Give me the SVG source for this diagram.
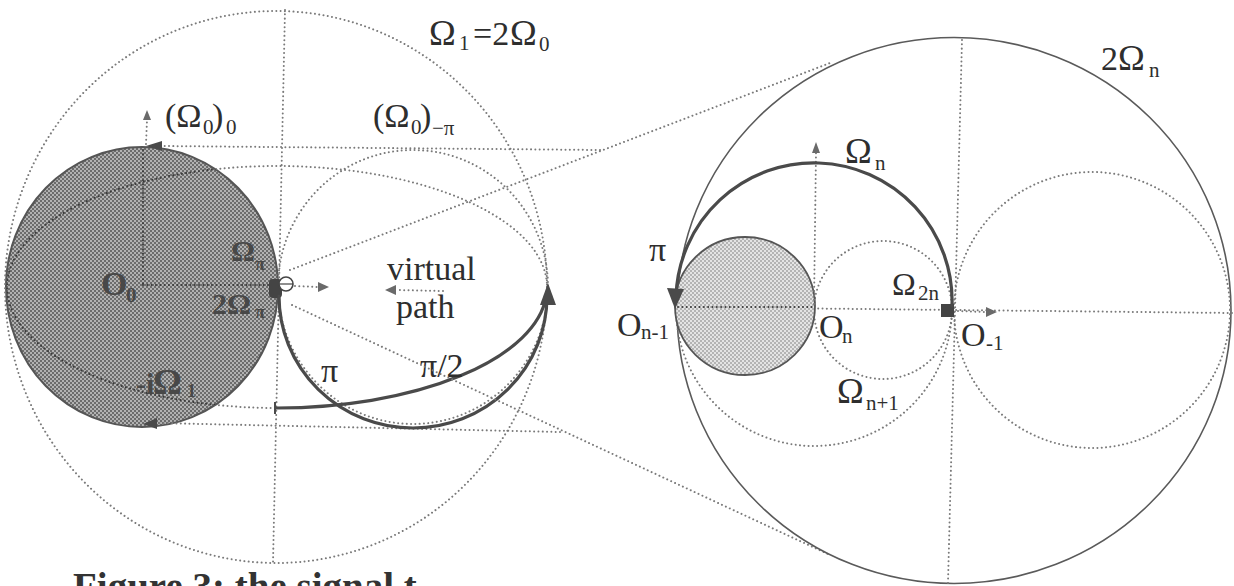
<svg xmlns="http://www.w3.org/2000/svg" width="1234" height="586" viewBox="0 0 1234 586">
<style>
  .dot{fill:none;stroke:#7a7a7a;stroke-width:2;stroke-dasharray:0.01 4.3;stroke-linecap:round}
  .dotdk{fill:none;stroke:#3a3a3a;stroke-width:2;stroke-dasharray:0.01 4.3;stroke-linecap:round}
  .thick{fill:none;stroke:#4a4a4a;stroke-width:3.2;stroke-linecap:round}
  .thin{fill:none;stroke:#5a5a5a;stroke-width:1.6}
  .head{fill:#4a4a4a}
  .shead{fill:#6a6a6a}
  text{font-family:"Liberation Serif","Times New Roman",serif;fill:#2e2e2e}
  .lb{font-size:34px}
  .om{font-size:36px}
  .sb{font-size:21px}
  .dk{fill:#484848;font-weight:bold}
</style>
<defs>
  <pattern id="hL" width="4" height="4" patternUnits="userSpaceOnUse">
    <rect width="4" height="4" fill="#b2b2b2"/>
    <rect width="2" height="2" fill="#6c6c6c"/>
    <rect x="2" y="2" width="2" height="2" fill="#6c6c6c"/>
  </pattern>
  <pattern id="hR" width="4" height="4" patternUnits="userSpaceOnUse">
    <rect width="4" height="4" fill="#e4e4e4"/>
    <rect width="2" height="2" fill="#b4b4b4"/>
    <rect x="2" y="2" width="2" height="2" fill="#b4b4b4"/>
  </pattern>
  <clipPath id="clipL"><ellipse cx="142" cy="287" rx="136" ry="140"/></clipPath>
</defs>

<!-- LEFT PANEL -->
<g id="left-shaded-circle">
  <ellipse cx="142" cy="287" rx="136" ry="140" fill="url(#hL)" stroke="#555" stroke-width="2"/>
</g>
<g id="left-construction">
  <ellipse class="dot" cx="276" cy="287" rx="271" ry="276"/>
  <ellipse class="dot" cx="413" cy="287" rx="135" ry="137"/>
  <line class="dot" x1="285" y1="10" x2="273" y2="563"/>
  <path class="dot" d="M547 287 A270 121 0 1 0 277 408"/>
  <g clip-path="url(#clipL)">
    <path class="dotdk" d="M547 287 A270 121 0 1 0 277 408"/>
    <line class="dotdk" x1="143" y1="150" x2="143" y2="286"/>
    <line class="dotdk" x1="143" y1="285" x2="277" y2="285"/>
  </g>
  <line class="dot" x1="600" y1="150" x2="160" y2="146"/>
  <polygon class="head" points="146,146 162,141 162,151"/>
  <line class="dot" x1="560" y1="432" x2="158" y2="423"/>
  <polygon class="head" points="143,424 157,418 157,429"/>
  <line class="dot" x1="146" y1="144" x2="147" y2="120"/>
  <polygon class="shead" points="147,110 143,120 151,120"/>
</g>
<g id="left-points">
  <rect x="269" y="279" width="13" height="19" rx="4" fill="#444"/>
  <circle cx="286" cy="284" r="7" fill="#fff" stroke="#444" stroke-width="1.6"/>
  <line x1="279" y1="284" x2="293" y2="284" stroke="#444" stroke-width="1.2"/>
  <line class="dot" x1="295" y1="286" x2="318" y2="287"/>
  <polygon class="shead" points="329,287 318,282 318,292"/>
  <line class="dot" x1="443" y1="291" x2="396" y2="290"/>
  <polygon class="shead" points="385,290 396,285 396,295"/>
</g>
<g id="left-paths">
  <path class="thick" d="M279 296 A134 132 0 0 0 547 296"/>
  <path class="thick" d="M276 408 A270 121 0 0 0 546.3 296"/>
  <line x1="275" y1="402" x2="275" y2="414" stroke="#4a4a4a" stroke-width="2"/>
  <polygon class="head" points="548,283 540,305 556,305"/>
</g>
<g id="left-labels">
  <text class="om" x="429" y="45">Ω</text>
  <text class="sb" x="459" y="50">1</text>
  <text class="lb" x="473" y="45">=2</text>
  <text class="om" x="510" y="45">Ω</text>
  <text class="sb" x="539" y="51">0</text>

  <text class="lb" x="165" y="127">(Ω</text>
  <text class="sb" x="203" y="134">0</text>
  <text class="lb" x="212" y="127">)</text>
  <text class="sb" x="226" y="134">0</text>

  <text class="lb" x="373" y="127">(Ω</text>
  <text class="sb" x="411" y="134">0</text>
  <text class="lb" x="420" y="127">)</text>
  <text class="sb" x="432" y="135">−π</text>

  <text class="lb dk" x="101" y="295">O</text>
  <text class="sb dk" x="126" y="302">0</text>
  <text class="dk" style="font-size:30px" x="231" y="261">Ω</text>
  <text class="dk" style="font-size:18px" x="255" y="270">π</text>
  <text class="dk" style="font-size:30px" x="212" y="314">2Ω</text>
  <text class="dk" style="font-size:18px" x="255" y="318">π</text>
  <text class="dk" style="font-size:30px" x="136" y="394">-i</text>
  <text class="dk" style="font-size:36px" x="153" y="394">Ω</text>
  <text class="dk" style="font-size:18px" x="187" y="397">1</text>

  <text class="lb" x="387" y="280">virtual</text>
  <text class="lb" x="396" y="318">path</text>
  <text class="lb" x="321" y="382">π</text>
  <text class="lb" x="420" y="377">π/2</text>
</g>

<!-- ZOOM CONNECTORS -->
<g id="connectors">
  <line class="dot" x1="290" y1="270" x2="830" y2="63"/>
  <line class="dot" x1="292" y1="305" x2="830" y2="555"/>
</g>

<!-- RIGHT PANEL -->
<g id="right-outer-circle">
  <ellipse class="thin" cx="954" cy="310.5" rx="277" ry="273"/>
</g>
<g id="right-construction">
  <line class="dot" x1="962" y1="40" x2="948" y2="583"/>
  <line class="dot" x1="676" y1="307" x2="1232" y2="313"/>
  <path class="dot" d="M676 308 A138 138 0 0 0 952 308"/>
  <circle class="dot" cx="883" cy="310" r="69"/>
  <circle class="dot" cx="1092" cy="310" r="138"/>
</g>
<g id="right-shaded-circle">
  <ellipse cx="745" cy="306" rx="70" ry="69" fill="url(#hR)" stroke="#555" stroke-width="1.8"/>
  <line class="dotdk" x1="678" y1="307" x2="814" y2="307"/>
</g>
<g id="right-points">
  <line class="dot" x1="814" y1="304" x2="816" y2="153"/>
  <polygon class="shead" points="816,142 812,153 820,153"/>
  <rect x="941" y="304" width="13" height="13" fill="#444"/>
  <line class="dot" x1="958" y1="311" x2="985" y2="312"/>
  <polygon class="shead" points="997,312 986,307 986,317"/>
</g>
<g id="right-paths">
  <path class="thick" d="M952 306 A138 138 0 0 0 676 296"/>
  <polygon class="head" points="675,309 667,288 684,289"/>
</g>
<g id="right-labels">
  <text class="lb" x="1101" y="70">2</text>
  <text class="om" x="1118" y="70">Ω</text>
  <text class="sb" x="1149" y="77">n</text>
  <text class="om" x="845" y="163">Ω</text>
  <text class="sb" x="875" y="170">n</text>
  <text class="lb" x="649" y="261">π</text>
  <text class="lb" style="font-size:32px" x="892" y="295">Ω</text>
  <text class="sb" x="918" y="300">2n</text>
  <text class="lb" x="617" y="336">O</text>
  <text class="sb" x="641" y="339">n-1</text>
  <text class="lb" x="819" y="338">O</text>
  <text class="sb" x="842" y="343">n</text>
  <text class="lb" x="961" y="346">O</text>
  <text class="sb" x="986" y="350">-1</text>
  <text class="om" x="837" y="403">Ω</text>
  <text class="sb" x="866" y="410">n+1</text>
</g>

<!-- CAPTION (clipped by bottom edge, as in the reference) -->
<g id="caption">
  <text x="73" y="600" style="font-size:39px;font-weight:bold;fill:#333">Figure 3: the signal t</text>
</g>
</svg>
